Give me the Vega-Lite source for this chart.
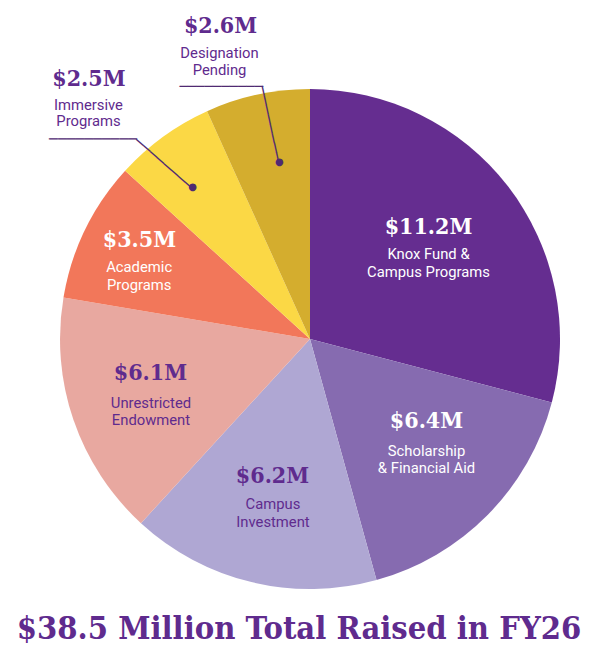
{
  "$schema": "https://vega.github.io/schema/vega-lite/v6.json",
  "width": 580,
  "height": 542,
  "padding": {"left": 20, "top": 68, "right": 0, "bottom": 52},
  "autosize": "none",
  "background": "white",
  "view": {"stroke": null},
  "title": {
    "text": "$38.5 Million Total Raised in FY26",
    "orient": "bottom",
    "anchor": "middle",
    "offset": 3,
    "dx": -11,
    "font": "DejaVu Serif Condensed",
    "fontWeight": "bold",
    "fontSize": 32.4,
    "color": "#5f2b8e"
  },
  "data": {
    "values": [
      {"category": "Knox Fund & Campus Programs", "value": 11.2, "label": "$11.2M", "desc": "Knox Fund &\nCampus Programs", "order": 1},
      {"category": "Scholarship & Financial Aid", "value": 6.4, "label": "$6.4M", "desc": "Scholarship\n& Financial Aid", "order": 2},
      {"category": "Campus Investment", "value": 6.2, "label": "$6.2M", "desc": "Campus\nInvestment", "order": 3},
      {"category": "Unrestricted Endowment", "value": 6.1, "label": "$6.1M", "desc": "Unrestricted\nEndowment", "order": 4},
      {"category": "Academic Programs", "value": 3.5, "label": "$3.5M", "desc": "Academic\nPrograms", "order": 5},
      {"category": "Immersive Programs", "value": 2.5, "label": "$2.5M", "desc": "Immersive\nPrograms", "order": 6},
      {"category": "Designation Pending", "value": 2.6, "label": "$2.6M", "desc": "Designation\nPending", "order": 7}
    ]
  },
  "encoding": {
    "theta": {"field": "value", "type": "quantitative", "stack": true},
    "order": {"field": "order", "type": "quantitative"},
    "detail": {"field": "category", "type": "nominal"}
  },
  "layer": [
    {
      "mark": {"type": "arc", "radius": 250},
      "encoding": {
        "color": {
          "field": "category",
          "type": "nominal",
          "scale": {
            "domain": ["Knox Fund & Campus Programs", "Scholarship & Financial Aid", "Campus Investment", "Unrestricted Endowment", "Academic Programs", "Immersive Programs", "Designation Pending"],
            "range": ["#652d90", "#866bb0", "#afa7d3", "#e8a8a0", "#f2775a", "#fbd845", "#d4ad2e"]
          },
          "legend": null
        }
      }
    },
    {
      "mark": {"type": "text", "radius": 160, "dx": -8.2, "dy": -13.8, "font": "DejaVu Serif Condensed", "fontWeight": "bold", "fontSize": 23, "baseline": "middle", "align": "center", "color": "#ffffff"},
      "encoding": {"text": {"condition": {"test": "datum.order == 1", "field": "label"}, "value": ""}}
    },
    {
      "mark": {"type": "text", "radius": 160, "dx": -8.2, "dy": 13.7, "font": "Roboto", "fontSize": 14.8, "lineHeight": 18, "lineBreak": "\n", "baseline": "middle", "align": "center", "color": "#ffffff"},
      "encoding": {"text": {"condition": {"test": "datum.order == 1", "field": "desc"}, "value": ""}}
    },
    {
      "mark": {"type": "text", "radius": 160, "dx": 2.7, "dy": -30, "font": "DejaVu Serif Condensed", "fontWeight": "bold", "fontSize": 23, "baseline": "middle", "align": "center", "color": "#ffffff"},
      "encoding": {"text": {"condition": {"test": "datum.order == 2", "field": "label"}, "value": ""}}
    },
    {
      "mark": {"type": "text", "radius": 160, "dx": 2.7, "dy": 0.5, "font": "Roboto", "fontSize": 14.8, "lineHeight": 17.5, "lineBreak": "\n", "baseline": "middle", "align": "center", "color": "#ffffff"},
      "encoding": {"text": {"condition": {"test": "datum.order == 2", "field": "desc"}, "value": ""}}
    },
    {
      "mark": {"type": "text", "radius": 160, "dx": 0, "dy": -19, "font": "DejaVu Serif Condensed", "fontWeight": "bold", "fontSize": 23, "baseline": "middle", "align": "center", "color": "#5f2b8e"},
      "encoding": {"text": {"condition": {"test": "datum.order == 3", "field": "label"}, "value": ""}}
    },
    {
      "mark": {"type": "text", "radius": 160, "dx": 0.5, "dy": 10.5, "font": "Roboto", "fontSize": 14.8, "lineHeight": 17.5, "lineBreak": "\n", "baseline": "middle", "align": "center", "color": "#5f2b8e"},
      "encoding": {"text": {"condition": {"test": "datum.order == 3", "field": "desc"}, "value": ""}}
    },
    {
      "mark": {"type": "text", "radius": 160, "dx": -8.2, "dy": -17.9, "font": "DejaVu Serif Condensed", "fontWeight": "bold", "fontSize": 23, "baseline": "middle", "align": "center", "color": "#5f2b8e"},
      "encoding": {"text": {"condition": {"test": "datum.order == 4", "field": "label"}, "value": ""}}
    },
    {
      "mark": {"type": "text", "radius": 160, "dx": -7.7, "dy": 12.6, "font": "Roboto", "fontSize": 14.8, "lineHeight": 17, "lineBreak": "\n", "baseline": "middle", "align": "center", "color": "#5f2b8e"},
      "encoding": {"text": {"condition": {"test": "datum.order == 4", "field": "desc"}, "value": ""}}
    },
    {
      "mark": {"type": "text", "radius": 190, "dx": 0.3, "dy": -15.4, "font": "DejaVu Serif Condensed", "fontWeight": "bold", "fontSize": 23, "baseline": "middle", "align": "center", "color": "#ffffff"},
      "encoding": {"text": {"condition": {"test": "datum.order == 5", "field": "label"}, "value": ""}}
    },
    {
      "mark": {"type": "text", "radius": 190, "dx": 0, "dy": 12.1, "font": "Roboto", "fontSize": 14.8, "lineHeight": 18, "lineBreak": "\n", "baseline": "middle", "align": "center", "color": "#ffffff"},
      "encoding": {"text": {"condition": {"test": "datum.order == 5", "field": "desc"}, "value": ""}}
    },
    {
      "mark": {"type": "text", "radius": 120, "dx": -150.5, "dy": -163.4, "font": "DejaVu Serif Condensed", "fontWeight": "bold", "fontSize": 23, "baseline": "middle", "align": "center", "color": "#5f2b8e"},
      "encoding": {"text": {"condition": {"test": "datum.order == 6", "field": "label"}, "value": ""}}
    },
    {
      "mark": {"type": "text", "radius": 120, "dx": -151, "dy": -136.4, "font": "Roboto", "fontSize": 14.8, "lineHeight": 16.5, "lineBreak": "\n", "baseline": "middle", "align": "center", "color": "#5f2b8e"},
      "encoding": {"text": {"condition": {"test": "datum.order == 6", "field": "desc"}, "value": ""}}
    },
    {
      "mark": {"type": "text", "radius": 120, "dx": -102.5, "dy": -102.1, "font": "DejaVu Sans Mono", "fontSize": 14.6, "baseline": "middle", "align": "right", "color": "#4f2a72"},
      "encoding": {"text": {"condition": {"test": "datum.order == 6", "value": "──────────"}, "value": ""}}
    },
    {
      "mark": {"type": "text", "radius": 120, "angle": 41.34, "dx": -108.26, "dy": -8.6, "font": "DejaVu Sans Mono", "fontSize": 15.4, "baseline": "middle", "align": "center", "color": "#4f2a72"},
      "encoding": {"text": {"condition": {"test": "datum.order == 6", "value": "────────"}, "value": ""}}
    },
    {
      "mark": {"type": "text", "radius": 120, "dx": -46.8, "dy": -54.6, "font": "DejaVu Sans", "fontSize": 10, "baseline": "middle", "align": "center", "color": "#4f2a72"},
      "encoding": {"text": {"condition": {"test": "datum.order == 6", "value": "●"}, "value": ""}}
    },
    {
      "mark": {"type": "text", "radius": 120, "dx": -64.2, "dy": -195.2, "font": "DejaVu Serif Condensed", "fontWeight": "bold", "fontSize": 23, "baseline": "middle", "align": "center", "color": "#5f2b8e"},
      "encoding": {"text": {"condition": {"test": "datum.order == 7", "field": "label"}, "value": ""}}
    },
    {
      "mark": {"type": "text", "radius": 120, "dx": -65.2, "dy": -167.7, "font": "Roboto", "fontSize": 14.8, "lineHeight": 17, "lineBreak": "\n", "baseline": "middle", "align": "center", "color": "#5f2b8e"},
      "encoding": {"text": {"condition": {"test": "datum.order == 7", "field": "desc"}, "value": ""}}
    },
    {
      "mark": {"type": "text", "radius": 120, "dx": -21.7, "dy": -134.2, "font": "DejaVu Sans Mono", "fontSize": 13.9, "baseline": "middle", "align": "right", "color": "#4f2a72"},
      "encoding": {"text": {"condition": {"test": "datum.order == 7", "value": "──────────"}, "value": ""}}
    },
    {
      "mark": {"type": "text", "radius": 120, "angle": 77.85, "dx": -98.54, "dy": -5.85, "font": "DejaVu Sans Mono", "fontSize": 16.1, "baseline": "middle", "align": "center", "color": "#4f2a72"},
      "encoding": {"text": {"condition": {"test": "datum.order == 7", "value": "────────"}, "value": ""}}
    },
    {
      "mark": {"type": "text", "radius": 120, "dx": -5.4, "dy": -60, "font": "DejaVu Sans", "fontSize": 10, "baseline": "middle", "align": "center", "color": "#4f2a72"},
      "encoding": {"text": {"condition": {"test": "datum.order == 7", "value": "●"}, "value": ""}}
    }
  ]
}
